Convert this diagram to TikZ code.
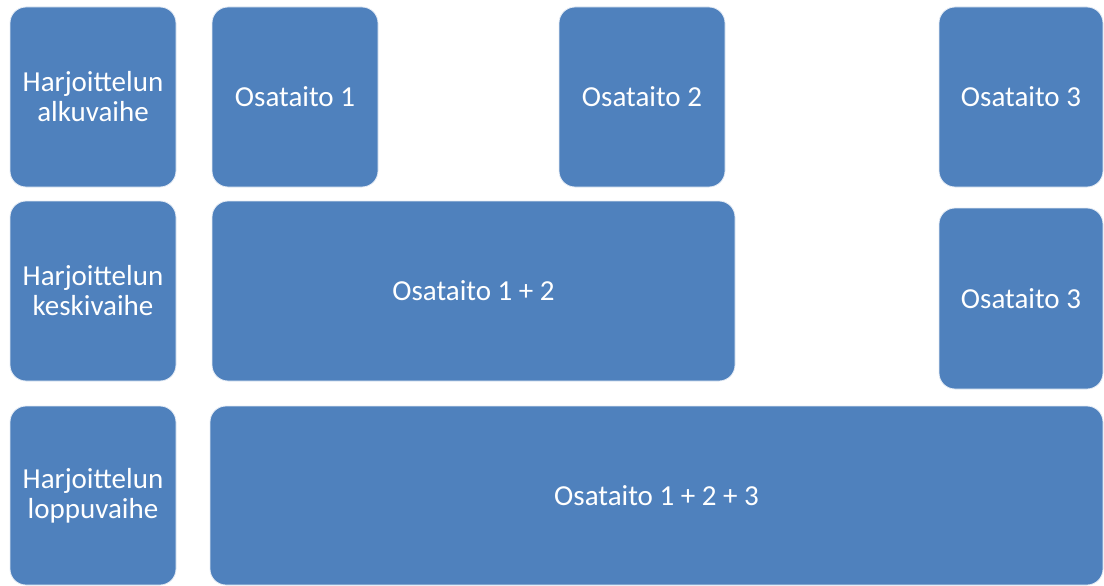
\documentclass[tikz,border=0pt]{standalone}
\usepackage{fontspec}
\setmainfont{Carlito}
\definecolor{boxblue}{HTML}{4F81BD}
\tikzset{
  box/.style={rectangle, rounded corners=16pt, fill=boxblue, draw=white!85!boxblue, line width=0.8pt,
    text=white, align=center, inner sep=0pt,
    font=\fontsize{29}{30}\selectfont},
}
\begin{document}
\begin{tikzpicture}[x=1pt,y=-1pt]
\useasboundingbox (0,0) rectangle (1104,586);
\node[box, minimum width=166pt, minimum height=180pt] (l1) at (93,97) {Harjoittelun\\alkuvaihe};
\node[box, minimum width=166pt, minimum height=180pt] (l2) at (93,291) {Harjoittelun\\keskivaihe};
\node[box, minimum width=166pt, minimum height=179pt] (l3) at (93,495.5) {Harjoittelun\\loppuvaihe};
\node[box, minimum width=166pt, minimum height=180pt] (o1) at (295,97) {Osataito 1};
\node[box, minimum width=166pt, minimum height=180pt] (o2) at (642,97) {Osataito 2};
\node[box, minimum width=164pt, minimum height=180pt] (o3a) at (1021,97) {Osataito 3};
\node[box, minimum width=523pt, minimum height=180pt] (o12) at (473.5,291) {Osataito 1 + 2};
\node[box, minimum width=164pt, minimum height=181pt] (o3b) at (1021,298.5) {Osataito 3};
\node[box, minimum width=893pt, minimum height=179pt] (o123) at (656.5,495.5) {Osataito 1 + 2 + 3};
\end{tikzpicture}
\end{document}
